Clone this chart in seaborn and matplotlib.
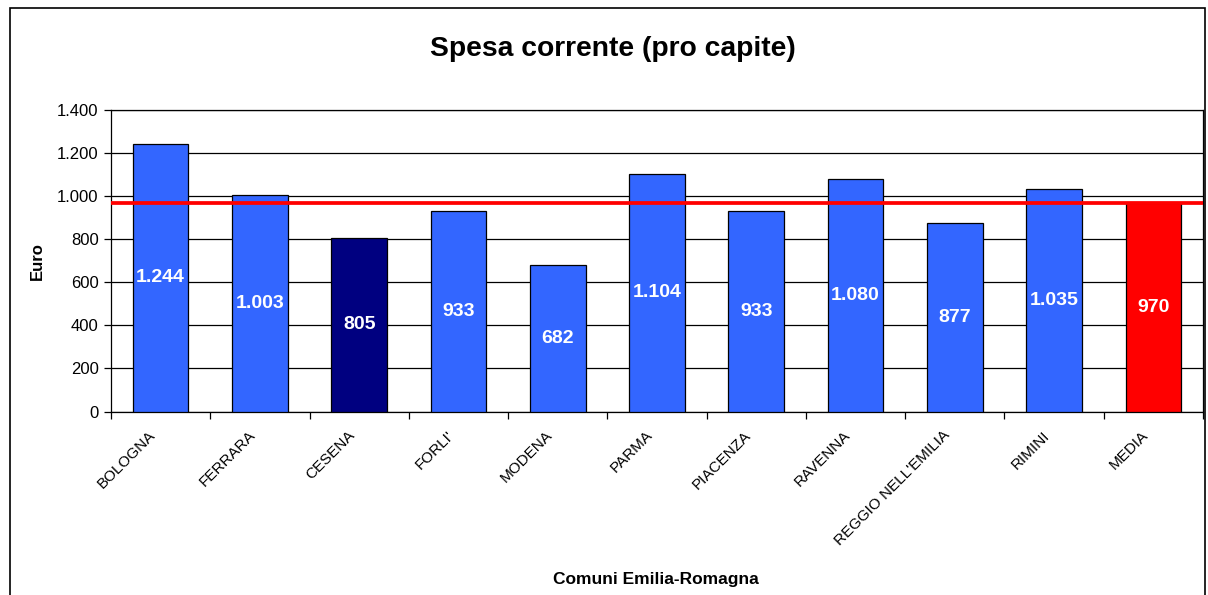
import matplotlib
matplotlib.use("Agg")
import matplotlib.pyplot as plt
import matplotlib.transforms as mtransforms
import seaborn as sns
import pandas as pd
from matplotlib.patches import Rectangle
from matplotlib.ticker import FixedLocator, FuncFormatter

comuni = ["BOLOGNA", "FERRARA", "CESENA", "FORLI'", "MODENA", "PARMA",
          "PIACENZA", "RAVENNA", "REGGIO NELL'EMILIA", "RIMINI", "MEDIA"]
spesa = [1244, 1003, 805, 933, 682, 1104, 933, 1080, 877, 1035, 970]
media = 970
colori = ["#3366FF", "#3366FF", "#000080", "#3366FF", "#3366FF", "#3366FF",
          "#3366FF", "#3366FF", "#3366FF", "#3366FF", "#FF0000"]

sns.set_theme(style="white")
plt.rcParams['font.family'] = ['Liberation Sans', 'DejaVu Sans']
plt.rcParams['text.color'] = 'black'
plt.rcParams['axes.labelcolor'] = 'black'
plt.rcParams['xtick.color'] = 'black'
plt.rcParams['ytick.color'] = 'black'

df = pd.DataFrame({"comune": comuni, "spesa": spesa})

fig = plt.figure(figsize=(12.08, 5.95), dpi=100)
L, R, T, B = 111, 1203, 110, 411.5
ax = fig.add_axes([L/1208, 1-B/595, (R-L)/1208, (B-T)/595])

sns.barplot(data=df, x="comune", y="spesa", hue="comune", palette=colori,
            legend=False, width=0.56, edgecolor="black", linewidth=0.9,
            saturation=1, ax=ax, zorder=3)

ax.set_ylim(0, 1400)
ax.set_xlim(-0.5, len(comuni) - 0.5)
ax.set_yticks(range(0, 1401, 200))
ax.yaxis.set_major_formatter(FuncFormatter(lambda v, p: f"{int(v):,}".replace(",", ".")))
ax.grid(axis="y", color="black", linewidth=0.9, zorder=0)
ax.set_axisbelow(True)

# category ticks at boundaries
ax.xaxis.set_minor_locator(FixedLocator([i - 0.5 for i in range(len(comuni) + 1)]))
ax.tick_params(axis="x", which="major", length=0, labelsize=11, pad=12)
ax.tick_params(axis="x", which="minor", length=5, width=0.9, direction="out", color="black", bottom=True)
ax.tick_params(axis="y", which="major", length=5, width=0.9, direction="out", color="black",
               left=True, labelsize=12, pad=4)
shift = mtransforms.ScaledTranslation(-12/100, 0, fig.dpi_scale_trans)
for lab in ax.get_xticklabels():
    lab.set_rotation(45)
    lab.set_ha("right")
    lab.set_va("top")
    lab.set_rotation_mode("anchor")
    lab.set_transform(lab.get_transform() + shift)

for s in ax.spines.values():
    s.set_color("black")
    s.set_linewidth(0.9)

ax.axhline(media, color="#FF0000", linewidth=2.7, zorder=5)

for i, v in enumerate(spesa):
    ax.text(i, v / 2, f"{v:,}".replace(",", "."), ha="center", va="center",
            color="white", fontsize=14, fontweight="bold", zorder=6)

ax.set_xlabel("Comuni Emilia-Romagna", fontsize=12.5, fontweight="bold")
ax.xaxis.set_label_coords((656 - L) / (R - L), -(572 - B) / (B - T))
ax.set_ylabel("Euro", fontsize=12, fontweight="bold")
ax.yaxis.set_label_coords(-(L - 45) / (R - L), 0.5)

fig.text(613/1208, 1 - 48.5/595, "Spesa corrente (pro capite)", ha="center", va="center",
         fontsize=20.3, fontweight="bold")

fig.patches.append(Rectangle((10/1208, -0.05), (1205-10)/1208, 1 - 8/595 + 0.05,
                             transform=fig.transFigure, fill=False,
                             edgecolor="black", linewidth=1.2))

fig.savefig("out.png", dpi=100)
